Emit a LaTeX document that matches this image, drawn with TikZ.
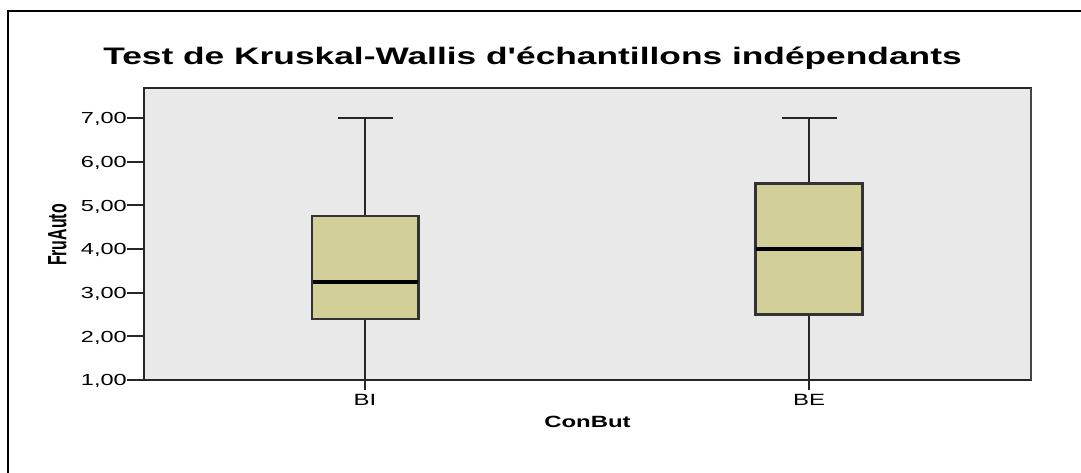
\documentclass[tikz,border=0pt]{standalone}
\usepackage{fontspec}
\setmainfont{Liberation Sans}
\newfontfamily\plainsans{Liberation Sans}
\definecolor{plotbg}{RGB}{233,233,233}
\definecolor{boxfill}{RGB}{211,207,152}
\definecolor{edgegray}{RGB}{70,70,70}
\newcommand{\hs}[1]{\scalebox{1.47}[1]{#1}}
\begin{document}
\begin{tikzpicture}[x=0.75pt,y=-0.75pt,
  frameline/.style={line width=2pt,draw=black},
  axisline/.style={line width=1.5pt,draw=black!85},
  whisk/.style={line width=1.5pt,draw=black!85},
  boxrect/.style={fill=boxfill,draw=black!80,line width=1.6pt},
  medline/.style={line width=3.2pt,draw=black},
  ticklab/.style={inner sep=0pt,anchor=base east,font=\fontsize{12}{14}\selectfont},
  catlab/.style={inner sep=0pt,anchor=base,font=\fontsize{12.2}{14}\selectfont},
  titlelab/.style={inner sep=0pt,anchor=base,font=\plainsans\fontsize{17.9}{20}\selectfont\bfseries},
  axtitle/.style={inner sep=0pt,font=\fontsize{12.2}{14}\selectfont\bfseries}]
\useasboundingbox (0,0) rectangle (1081,473);
\fill[white] (0,0) rectangle (1081,473);
% outer frame (cropped)
\coordinate (fbl) at (8,473);
\coordinate (ftl) at (8,11);
\coordinate (ftr) at (1081,11);
\draw[frameline] (fbl) -- (ftl) -- (ftr);
% title
\node[titlelab] (title) at (532.5,65) {\scalebox{1.48}[1]{Test de Kruskal-Wallis d'échantillons indépendants}};
% plot area
\coordinate (pa) at (144,88);
\coordinate (pb) at (1031,380);
\draw[fill=plotbg,axisline] (pa) rectangle (pb);
\draw[line width=2.2pt,draw=edgegray] (1031,88) -- (1031,380);
% y ticks
\foreach \v [count=\i from 0] in {1,2,3,4,5,6,7}{
  \pgfmathsetmacro{\yy}{380-\i*43.67}
  \coordinate (t\v) at (127,\yy);
  \coordinate (a\v) at (144,\yy);
  \draw[axisline] (t\v) -- (a\v);
  \node[ticklab] (l\v) at (127,\yy+5.8) {\hs{\v,00}};
}
% box BI
\coordinate (biTop) at (365,118);
\coordinate (biQ3) at (365,216.2);
\coordinate (biQ1) at (365,318.9);
\coordinate (biTick) at (365,390);
\draw[whisk] (337.5,118) -- (392.5,118);
\draw[whisk] (biTop) -- (biQ3);
\draw[whisk] (biQ1) -- (biTick);
\draw[boxrect] (311.7,216.2) rectangle (418.5,318.9);
\draw[medline] (312.5,281.7) -- (417.7,281.7);
% box BE
\coordinate (beTop) at (809,118);
\coordinate (beQ3) at (809,183.5);
\coordinate (beQ1) at (809,314.5);
\coordinate (beTick) at (809,390);
\draw[whisk] (781.5,118) -- (836.5,118);
\draw[whisk] (beTop) -- (beQ3);
\draw[whisk] (beQ1) -- (beTick);
\draw[boxrect] (755.5,183.5) rectangle (862.5,314.5);
\draw[medline] (756.3,249) -- (861.7,249);
% category labels
\node[catlab] (bi) at (365,405.3) {\hs{BI}};
\node[catlab] (be) at (809,405.3) {\hs{BE}};
% axis titles
\node[axtitle,anchor=base] (xt) at (587.5,427.7) {\hs{ConBut}};
\node[axtitle,rotate=90] (yt) at (57.5,235) {\scalebox{0.886}[1.47]{\fontsize{13.5}{15}\selectfont\bfseries FruAuto}};
\end{tikzpicture}
\end{document}
